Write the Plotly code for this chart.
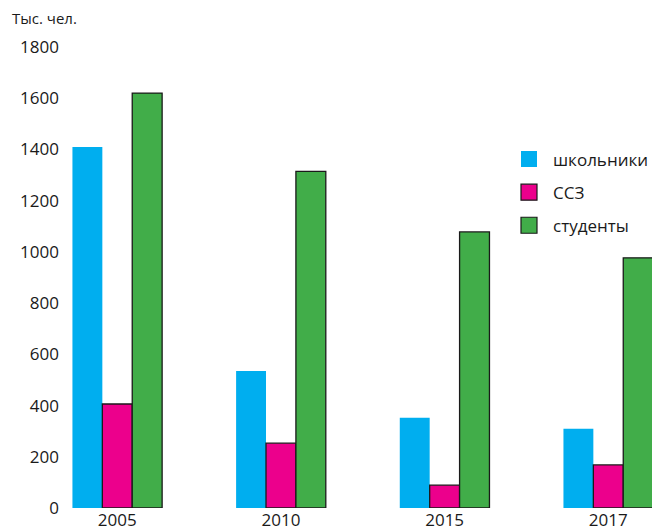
import plotly.graph_objects as go

years = ["2005", "2010", "2015", "2017"]
schoolchildren = [1410, 535, 352, 309]
ssz = [406, 253, 89, 168]
students = [1620, 1314, 1078, 977]
series_names = ["школьники", "ССЗ", "студенты"]
y_ticks = [0, 200, 400, 600, 800, 1000, 1200, 1400, 1600, 1800]

colors = ["#00AEEF", "#EC008C", "#41AD49"]
outlines = [None, "#1a1a1a", "#1a1a1a"]
values = [schoolchildren, ssz, students]

FONT = "Open Sans, Noto Sans, sans-serif"

fig = go.Figure()
for name, vals, col, ol in zip(series_names, values, colors, outlines):
    fig.add_trace(go.Bar(
        x=years, y=vals, name=name, showlegend=False,
        marker=dict(color=col, line=dict(color=ol if ol else col, width=1.3 if ol else 0)),
    ))
for i, (name, col, ol) in enumerate(zip(series_names, colors, outlines)):
    fig.add_trace(go.Scatter(
        x=[None], y=[None], mode="markers", name=name, legendgroup=f"g{i}",
        marker=dict(symbol="square", size=17, color=col,
                    line=dict(color=ol if ol else col, width=1.2 if ol else 0)),
    ))

fig.update_layout(
    width=654, height=532,
    margin=dict(l=60, r=0, t=47, b=24),
    paper_bgcolor="white", plot_bgcolor="white",
    font=dict(family=FONT, size=17, color="#1a1a1a"),
    barmode="group", bargap=0.452, bargroupgap=0,
    showlegend=True,
    legend=dict(x=0.752, y=0.795, xanchor="left", yanchor="top",
                font=dict(size=17), tracegroupgap=8, itemwidth=38,
                bgcolor="rgba(0,0,0,0)"),
    xaxis=dict(type="category", range=[-0.35, 3.267], showgrid=False,
               showline=False, zeroline=False, ticks="", tickfont=dict(size=17)),
    yaxis=dict(range=[0, 1800], tickvals=y_ticks, showgrid=False, showline=False,
               zeroline=False, ticks="", tickfont=dict(size=17)),
    annotations=[dict(text="Тыс. чел.", xref="paper", yref="paper",
                      x=-50/594, y=1 + 29/461, xanchor="left", yanchor="middle",
                      showarrow=False, font=dict(size=15, family=FONT))],
)

fig.write_html("out.html", config={"displayModeBar": False},
               post_script="document.body.style.margin='0';document.body.style.overflow='hidden';")
